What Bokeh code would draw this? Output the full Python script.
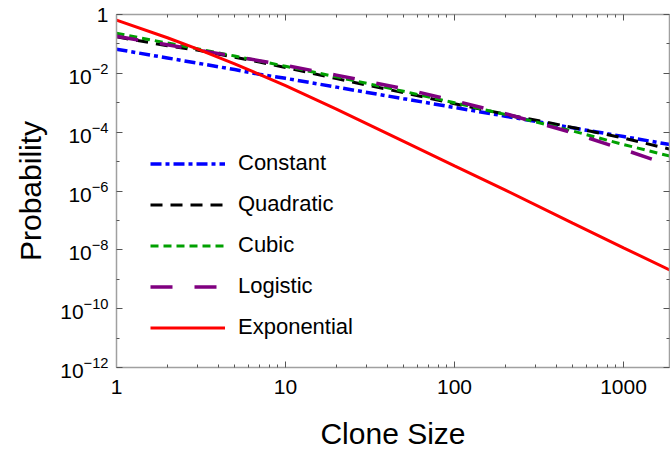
from bokeh.plotting import figure
from bokeh.models import (LogAxis, FixedTicker, CustomJSTickFormatter, LogTickFormatter,
                          Legend, LegendItem, Range1d)
from bokeh.embed import file_html
from bokeh.resources import INLINE

# ---- data ----
clone_size = [1, 2, 3, 5, 7, 10, 20, 50, 100, 200, 500, 1000, 1900]
constant = [0.066, 0.0333, 0.0223, 0.0134, 0.0093, 0.00676, 0.0034, 0.00137, 6.9e-4, 3.5e-4, 1.4e-4, 7.1e-5, 3.75e-5]
quadratic = [0.174, 0.087, 0.0617, 0.0355, 0.024, 0.0158, 0.0066, 0.00219, 9.3e-4, 4.07e-4, 1.45e-4, 6.3e-5, 2.6e-5]
cubic = [0.229, 0.107, 0.069, 0.0389, 0.0263, 0.0174, 0.00759, 0.00245, 1.0e-3, 3.98e-4, 1.10e-4, 3.8e-5, 1.51e-5]
logistic = [0.182, 0.0933, 0.063, 0.038, 0.0269, 0.0186, 0.0087, 0.0030, 1.17e-3, 4.27e-4, 9.5e-5, 2.57e-5, 7.4e-6]
exponential = [0.646, 0.162, 0.0676, 0.0209, 0.0093, 0.0038, 6.1e-4, 4.9e-5, 7.2e-6, 1.07e-6, 8.1e-8, 1.17e-8, 2.0e-9]

series_names = ["Constant", "Quadratic", "Cubic", "Logistic", "Exponential"]

x_major = [1, 10, 100, 1000]
x_minor = [2, 3, 4, 5, 6, 7, 8, 9, 20, 30, 40, 50, 60, 70, 80, 90,
           200, 300, 400, 500, 600, 700, 800, 900, 2000]
y_major = [1e0, 1e-2, 1e-4, 1e-6, 1e-8, 1e-10, 1e-12]
y_minor = [1e-1, 1e-3, 1e-5, 1e-7, 1e-9, 1e-11]

FONT = "Liberation Sans"
AXIS_COLOR = "#a0a0a0"
TICK_COLOR = "#555555"

p = figure(width=670, height=452, x_axis_type="log", y_axis_type="log",
           x_range=Range1d(1, 1871), y_range=Range1d(1e-12, 1),
           output_backend="svg", toolbar_location=None,
           min_border_left=116, min_border_top=14, min_border_right=1, min_border_bottom=82)
p.xgrid.visible = False
p.ygrid.visible = False
p.outline_line_color = None
p.background_fill_color = "white"

styles = [
    ("Constant", constant, "#0000ff", 3.5, "11 4 4 4"),
    ("Quadratic", quadratic, "#000000", 3.0, "12 8"),
    ("Cubic", cubic, "#00a000", 3.0, "8 5"),
    ("Logistic", logistic, "#800080", 3.5, "22 22"),
    ("Exponential", exponential, "#ff0000", 3.0, "solid"),
]
items = []
for name, ys, color, w, dash in styles:
    r = p.line(clone_size, ys, line_color=color, line_width=w, line_dash=dash)
    items.append(LegendItem(label=name, renderers=[r]))

xfmt = CustomJSTickFormatter(code="return String(Math.round(tick));")
yfmt = LogTickFormatter(min_exponent=1)
blankfmt = CustomJSTickFormatter(code="return ' ';")

def style_axis(ax, labels=True):
    ax.axis_line_color = AXIS_COLOR
    ax.axis_line_width = 1.5
    ax.major_tick_line_color = TICK_COLOR
    ax.minor_tick_line_color = TICK_COLOR
    ax.major_tick_in = 6
    ax.major_tick_out = 0
    ax.minor_tick_in = 3
    ax.minor_tick_out = 0
    if labels:
        ax.major_label_text_font = FONT
        ax.major_label_text_font_size = "21px"
        ax.major_label_text_color = "black"
        ax.axis_label_text_font = FONT
        ax.axis_label_text_font_size = "30px"
        ax.axis_label_text_font_style = "normal"
        ax.axis_label_text_color = "black"
    else:
        ax.formatter = blankfmt
        ax.major_label_text_font_size = "2px"
        ax.major_label_text_alpha = 0
        ax.major_label_standoff = 0

xa = p.xaxis[0]
xa.ticker = FixedTicker(ticks=x_major, minor_ticks=x_minor)
xa.formatter = xfmt
xa.axis_label = "Clone Size"
style_axis(xa)
xa.major_label_standoff = 12
xa.axis_label_standoff = 20

ya = p.yaxis[0]
ya.ticker = FixedTicker(ticks=y_major, minor_ticks=y_minor)
ya.formatter = yfmt
ya.axis_label = "Probability"
style_axis(ya)
ya.major_label_standoff = 8
ya.axis_label_standoff = 10

top = LogAxis(ticker=FixedTicker(ticks=x_major, minor_ticks=x_minor))
style_axis(top, labels=False)
p.add_layout(top, "above")
right = LogAxis(ticker=FixedTicker(ticks=y_major, minor_ticks=y_minor))
style_axis(right, labels=False)
p.add_layout(right, "right")

legend = Legend(items=items, location=(34, 27))
legend.glyph_width = 75
legend.glyph_height = 21
legend.label_height = 21
legend.label_standoff = 13
legend.spacing = 15
legend.padding = 0
legend.margin = 0
legend.border_line_alpha = 0
legend.background_fill_alpha = 0
legend.label_text_font = FONT
legend.label_text_font_size = "22px"
legend.label_text_color = "black"
p.add_layout(legend)

open("out.html", "w").write(file_html(p, INLINE))
